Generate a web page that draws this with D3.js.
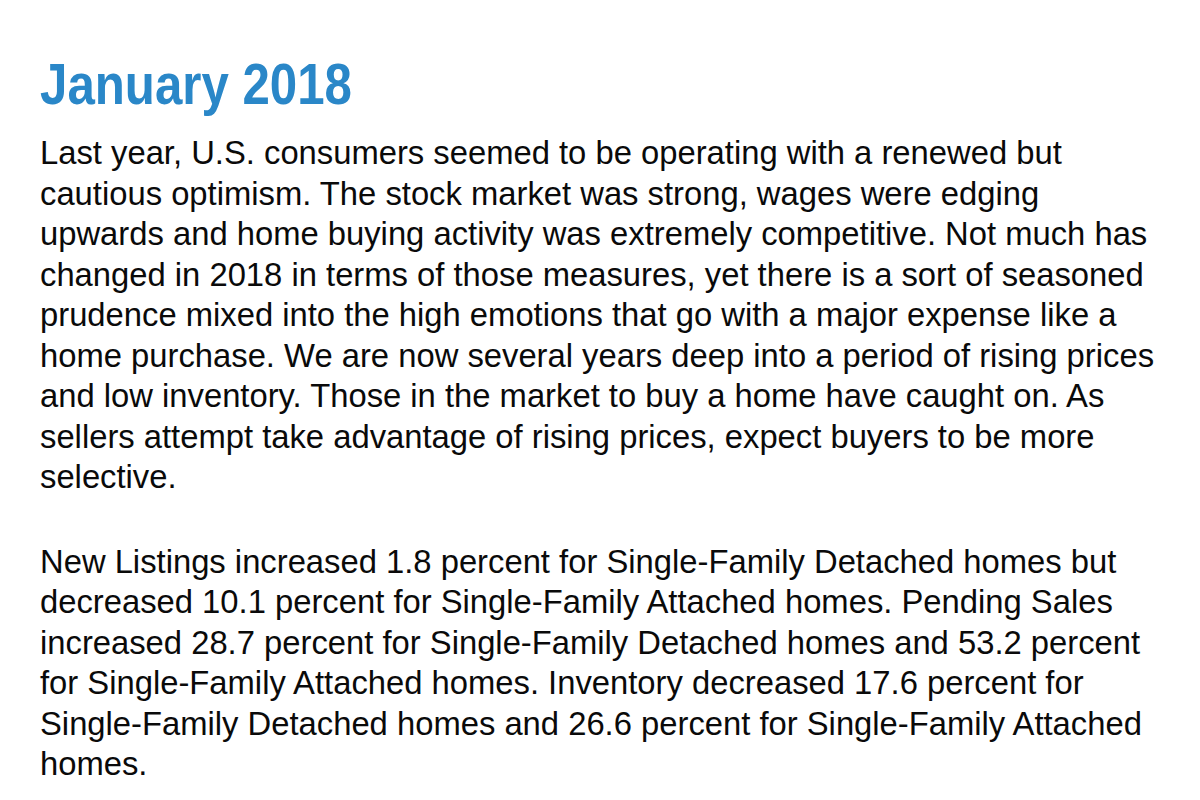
<!DOCTYPE html>
<html>
<head>
<meta charset="utf-8">
<script src="https://cdn.jsdelivr.net/npm/d3@7"></script>
<style>
  html, body { margin: 0; padding: 0; background: #ffffff; }
  svg { display: block; }
</style>
</head>
<body>
<svg id="chart" width="1200" height="800"></svg>
<script>
const title = "January 2018";

const paragraph1 = [
  "Last year, U.S. consumers seemed to be operating with a renewed but",
  "cautious optimism. The stock market was strong, wages were edging",
  "upwards and home buying activity was extremely competitive. Not much has",
  "changed in 2018 in terms of those measures, yet there is a sort of seasoned",
  "prudence mixed into the high emotions that go with a major expense like a",
  "home purchase. We are now several years deep into a period of rising prices",
  "and low inventory. Those in the market to buy a home have caught on. As",
  "sellers attempt take advantage of rising prices, expect buyers to be more",
  "selective."
];

const paragraph2 = [
  "New Listings increased 1.8 percent for Single-Family Detached homes but",
  "decreased 10.1 percent for Single-Family Attached homes. Pending Sales",
  "increased 28.7 percent for Single-Family Detached homes and 53.2 percent",
  "for Single-Family Attached homes. Inventory decreased 17.6 percent for",
  "Single-Family Detached homes and 26.6 percent for Single-Family Attached",
  "homes."
];

const svg = d3.select("#chart");
const left = 40;

// Title
const titleText = svg.append("text")
  .attr("x", left)
  .attr("y", 104)
  .attr("fill", "#2a87c8")
  .attr("font-family", "'Liberation Sans Narrow', 'Liberation Sans', Arial, sans-serif")
  .attr("font-weight", "bold")
  .attr("font-size", 58)
  .text(title);
const tw = titleText.node().getComputedTextLength();
const targetTitleW = 312;
if (Math.abs(tw - targetTitleW) > 2) {
  titleText.attr("textLength", targetTitleW).attr("lengthAdjust", "spacingAndGlyphs");
}

// Body lines: row index -> baseline via linear scale
const lineY1 = d3.scaleLinear().domain([0, 8]).range([164, 488]);
const lineY2 = d3.scaleLinear().domain([0, 5]).range([573, 775]);

const bodyFont = "'Liberation Sans', Arial, Helvetica, sans-serif";

// Fit font size so the widest reference line spans its measured width
const probe = svg.append("text")
  .attr("font-family", bodyFont)
  .attr("font-size", 28)
  .text(paragraph1[2]);
const pw = probe.node().getComputedTextLength();
probe.remove();
const bodySize = 28 * (1108 / pw);

function drawParagraph(lines, yScale, cls) {
  svg.selectAll("text." + cls)
    .data(lines)
    .join("text")
    .attr("class", cls)
    .attr("x", left)
    .attr("y", (d, i) => yScale(i))
    .attr("fill", "#0a0a0a")
    .attr("font-family", bodyFont)
    .attr("font-size", bodySize)
    .text(d => d);
}

drawParagraph(paragraph1, lineY1, "p1");
drawParagraph(paragraph2, lineY2, "p2");
</script>
</body>
</html>
